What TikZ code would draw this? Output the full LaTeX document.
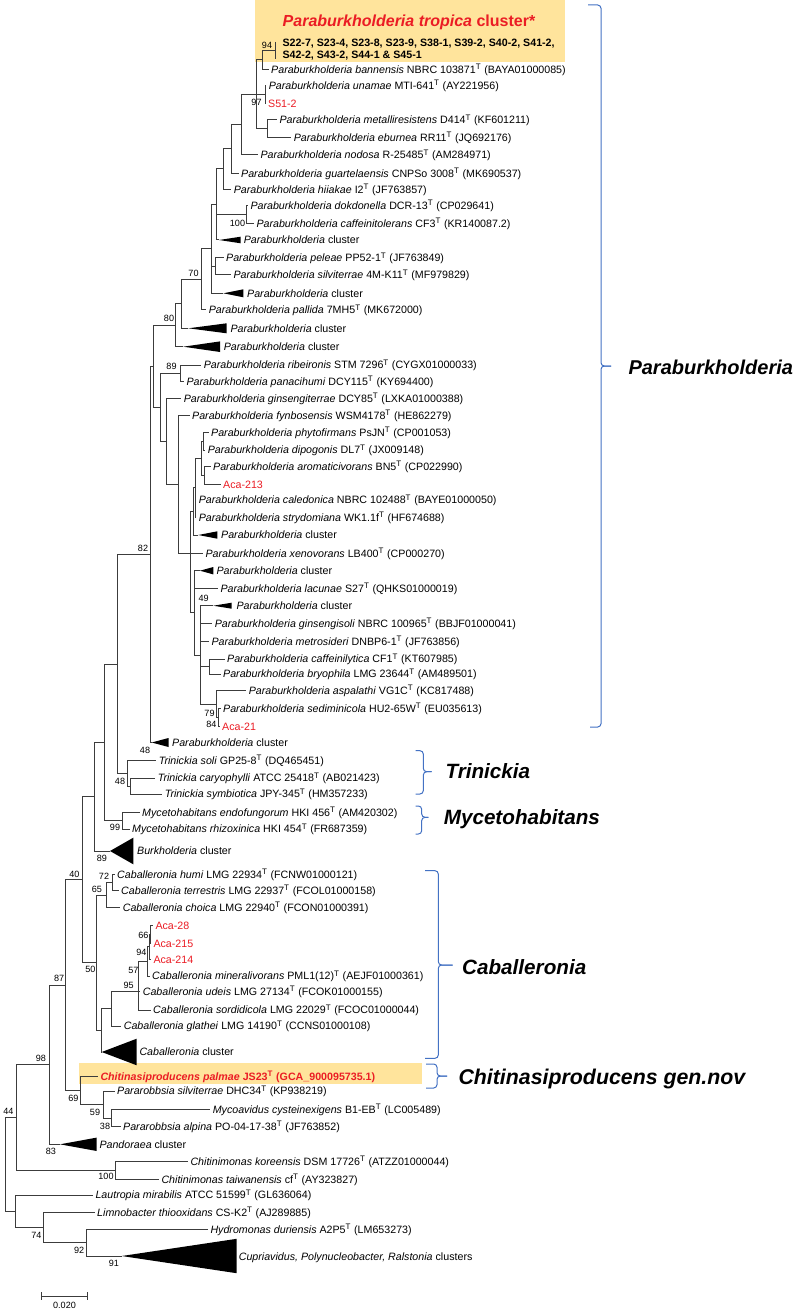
\documentclass[tikz,border=0pt]{standalone}
\usepackage{fontspec}
\setmainfont{Liberation Sans}
\definecolor{treegray}{RGB}{60,60,60}
\definecolor{strainred}{RGB}{235,28,36}
\definecolor{hlyellow}{RGB}{255,228,156}
\definecolor{braceblue}{RGB}{68,114,196}
\newcommand{\supT}{\textsuperscript{T}}
\tikzset{every picture/.style={line width=0.75pt}}
\tikzset{
  branch/.style={draw=treegray, line width=0.75pt},
  leaf/.style={anchor=west, inner xsep=1.5pt, inner ysep=0pt, text height=5.7pt, text depth=0pt, font=\fontsize{8}{9.6}\selectfont},
  redleaf/.style={leaf, text=strainred},
  boot/.style={inner sep=0pt, text height=4.8pt, text depth=0pt, font=\fontsize{6.8}{8}\selectfont},
  clade/.style={fill=black},
  bracket/.style={draw=braceblue, line width=0.75pt, rounded corners=2.5pt},
  genus/.style={anchor=west, inner sep=0pt, text height=11pt, text depth=0pt, font=\fontsize{15.5}{18}\selectfont\bfseries\itshape},
}

\begin{document}
\begin{tikzpicture}[x=0.75pt,y=0.75pt,yscale=-1,xscale=1]
\path[use as bounding box, fill=white] (0,0) rectangle (804,1312);

%Highlight boxes
\fill[hlyellow] (255,0) rectangle (565,62);
\fill[hlyellow] (79.3,1063.3) rectangle (421.7,1084);

%Title of the tropica cluster
\node[inner sep=0pt, text height=8.6pt, text depth=0pt, text=strainred, font=\fontsize{12}{14}\selectfont\bfseries] (ttrop) at (409,20.5) {\textit{Paraburkholderia tropica} cluster*};

%Internal nodes
\coordinate (n94) at (262.7,60);
\coordinate (n97) at (265,94.6);
\coordinate (nME) at (267.7,128.7);
\coordinate (nB) at (256,94.3);
\coordinate (nA) at (241.7,124.7);
\coordinate (nC) at (231.7,149);
\coordinate (nD) at (223,169);
\coordinate (n100) at (246,214.5);
\coordinate (nE) at (216.7,204.5);
\coordinate (nPS) at (215,266.5);
\coordinate (nF) at (211.7,249);
\coordinate (nG) at (201.7,279.5);
\coordinate (nH) at (181.7,304);
\coordinate (nI) at (175,325.3);
\coordinate (n89) at (180,373.3);
\coordinate (nRA) at (203.3,441.2);
\coordinate (nRB) at (204.3,475.5);
\coordinate (nR) at (201,458.3);
\coordinate (nT) at (195,487.8);
\coordinate (nS) at (193.3,511.4);
\coordinate (nCB) at (209.3,666.5);
\coordinate (n79) at (218.3,717.5);
\coordinate (nX) at (216,704.1);
\coordinate (nW2) at (200,655);
\coordinate (nW) at (194.3,612.9);
\coordinate (nV) at (190,553.3);
\coordinate (nP) at (178.3,484.5);
\coordinate (nO) at (166.7,441.7);
\coordinate (nN) at (160,407.5);
\coordinate (nM) at (153.3,366.4);
\coordinate (nK) at (150,554.5);
\coordinate (nT2) at (130.7,786);
\coordinate (nT1) at (127.7,773.4);
\coordinate (nZ1) at (117,664);
\coordinate (nMy) at (122.7,820.7);
\coordinate (nZ2) at (104,742.3);
\coordinate (nZ3) at (94.3,796.7);
\coordinate (n72) at (112.7,882.5);
\coordinate (n65) at (106,895.1);
\coordinate (n66) at (150.3,934.5);
\coordinate (n94b) at (149,946.9);
\coordinate (n57) at (147.7,961.5);
\coordinate (n95) at (138.3,991.5);
\coordinate (nY3) at (111.7,1008.7);
\coordinate (nY2) at (101,1030);
\coordinate (nY1) at (96.7,962.6);
\coordinate (nZ4) at (82.7,879.6);
\coordinate (n38) at (111.7,1118);
\coordinate (n59) at (103.3,1104.5);
\coordinate (n69) at (80,1090.6);
\coordinate (n87) at (65,985.1);
\coordinate (n98) at (49.3,1064.7);
\coordinate (nCh) at (115,1170.5);
\coordinate (n44) at (16,1117.6);
\coordinate (n92) at (86.7,1242.7);
\coordinate (n74) at (43.3,1227.7);
\coordinate (n15) at (15,1211.3);
\coordinate (nroot) at (5,1164.5);

%Collapsed clusters (apex)
\coordinate (c1) at (219,240);
\coordinate (c2) at (223.3,293.3);
\coordinate (c3) at (188.3,328.3);
\coordinate (c4) at (183.3,346.7);
\coordinate (c5) at (198.3,535);
\coordinate (c6) at (200,570.7);
\coordinate (c7) at (213.3,605.7);
\coordinate (c8) at (151.7,742.5);
\coordinate (c9) at (110,851);
\coordinate (c10) at (101.7,1052);
\coordinate (c11) at (60,1144.3);
\coordinate (c12) at (121.7,1256);
\fill[clade] (c1) -- ++(21.7,-3.3) -- ++(0,6.6) -- cycle;
\fill[clade] (c2) -- ++(20,-4) -- ++(0,8) -- cycle;
\fill[clade] (c3) -- ++(38.4,-5) -- ++(0,10) -- cycle;
\fill[clade] (c4) -- ++(36.7,-5.3) -- ++(0,10.6) -- cycle;
\fill[clade] (c5) -- ++(19,-3.7) -- ++(0,7.4) -- cycle;
\fill[clade] (c6) -- ++(13.3,-3.7) -- ++(0,7.4) -- cycle;
\fill[clade] (c7) -- ++(18.4,-3) -- ++(0,6) -- cycle;
\fill[clade] (c8) -- ++(16.8,-4.5) -- ++(0,9) -- cycle;
\fill[clade] (c9) -- ++(23.3,-13.3) -- ++(0,26.6) -- cycle;
\fill[clade] (c10) -- ++(35,-13.3) -- ++(0,26.6) -- cycle;
\fill[clade] (c11) -- ++(36.7,-6.7) -- ++(0,13.4) -- cycle;
\fill[clade] (c12) -- ++(115,-17.2) -- ++(0,34.4) -- cycle;

%Strains of the tropica cluster
\coordinate (sbar) at (275,50.7);
\coordinate (sbarT) at (275,42);
\coordinate (sbarB) at (275,59);
\node[anchor=west, inner xsep=1.5pt, inner ysep=0pt, align=left, font=\fontsize{8}{9.2}\selectfont\bfseries] (lstr) at (280,49.4) {S22-7, S23-4, S23-8, S23-9, S38-1, S39-2, S40-2, S41-2,\\S42-2, S43-2, S44-1 \& S45-1};

%Leaves
\node[leaf] (lbann) at (268.7,69.3) {\textit{Paraburkholderia bannensis} NBRC 103871\supT{} (BAYA01000085)};
\node[leaf] (lunam) at (266.3,85.7) {\textit{Paraburkholderia unamae} MTI-641\supT{} (AY221956)};
\node[redleaf] (lS512) at (265.7,103.5) {S51-2};
\node[leaf] (lmeta) at (277,120) {\textit{Paraburkholderia metalliresistens} D414\supT{} (KF601211)};
\node[leaf] (lebur) at (291.3,137.3) {\textit{Paraburkholderia eburnea} RR11\supT{} (JQ692176)};
\node[leaf] (lnodo) at (258,155) {\textit{Paraburkholderia nodosa} R-25485\supT{} (AM284971)};
\node[leaf] (lguar) at (238.7,173.3) {\textit{Paraburkholderia guartelaensis} CNPSo 3008\supT{} (MK690537)};
\node[leaf] (lhiia) at (231.3,189.3) {\textit{Paraburkholderia hiiakae} I2\supT{} (JF763857)};
\node[leaf] (ldokd) at (248,205.7) {\textit{Paraburkholderia dokdonella} DCR-13\supT{} (CP029641)};
\node[leaf] (lcaff) at (254,223.3) {\textit{Paraburkholderia caffeinitolerans} CF3\supT{} (KR140087.2)};
\node[leaf] (lc1) at (241.3,240) {\textit{Paraburkholderia} cluster};
\node[leaf] (lpele) at (223.7,258) {\textit{Paraburkholderia peleae} PP52-1\supT{} (JF763849)};
\node[leaf] (lsilv) at (231,275) {\textit{Paraburkholderia silviterrae} 4M-K11\supT{} (MF979829)};
\node[leaf] (lc2) at (244.7,293.3) {\textit{Paraburkholderia} cluster};
\node[leaf] (lpall) at (206.3,310) {\textit{Paraburkholderia pallida} 7MH5\supT{} (MK672000)};
\node[leaf] (lc3) at (228,328.3) {\textit{Paraburkholderia} cluster};
\node[leaf] (lc4) at (221.3,346.7) {\textit{Paraburkholderia} cluster};
\node[leaf] (lribe) at (201.3,365) {\textit{Paraburkholderia ribeironis} STM 7296\supT{} (CYGX01000033)};
\node[leaf] (lpana) at (184,381.5) {\textit{Paraburkholderia panacihumi} DCY115\supT{} (KY694400)};
\node[leaf] (lgint) at (181.3,398.8) {\textit{Paraburkholderia ginsengiterrae} DCY85\supT{} (LXKA01000388)};
\node[leaf] (lfynb) at (189.7,415.7) {\textit{Paraburkholderia fynbosensis} WSM4178\supT{} (HE862279)};
\node[leaf] (lphyt) at (208.7,432.3) {\textit{Paraburkholderia phytofirmans} PsJN\supT{} (CP001053)};
\node[leaf] (ldipo) at (205.3,450) {\textit{Paraburkholderia dipogonis} DL7\supT{} (JX009148)};
\node[leaf] (larom) at (210.7,466.7) {\textit{Paraburkholderia aromaticivorans} BN5\supT{} (CP022990)};
\node[redleaf] (lA213) at (220.7,484.3) {Aca-213};
\node[leaf] (lcale) at (196.3,500) {\textit{Paraburkholderia caledonica} NBRC 102488\supT{} (BAYE01000050)};
\node[leaf] (lstry) at (196.3,517.3) {\textit{Paraburkholderia strydomiana} WK1.1f\supT{} (HF674688)};
\node[leaf] (lc5) at (218.7,535) {\textit{Paraburkholderia} cluster};
\node[leaf] (lxeno) at (203,553.3) {\textit{Paraburkholderia xenovorans} LB400\supT{} (CP000270)};
\node[leaf] (lc6) at (214,570.7) {\textit{Paraburkholderia} cluster};
\node[leaf] (llacu) at (218,588.3) {\textit{Paraburkholderia lacunae} S27\supT{} (QHKS01000019)};
\node[leaf] (lc7) at (234,605.7) {\textit{Paraburkholderia} cluster};
\node[leaf] (lgiso) at (212.3,623.3) {\textit{Paraburkholderia ginsengisoli} NBRC 100965\supT{} (BBJF01000041)};
\node[leaf] (lmetr) at (209,641.7) {\textit{Paraburkholderia metrosideri} DNBP6-1\supT{} (JF763856)};
\node[leaf] (lcfly) at (224.7,659) {\textit{Paraburkholderia caffeinilytica} CF1\supT{} (KT607985)};
\node[leaf] (lbryo) at (220.7,674) {\textit{Paraburkholderia bryophila} LMG 23644\supT{} (AM489501)};
\node[leaf] (laspa) at (246.3,690.7) {\textit{Paraburkholderia aspalathi} VG1C\supT{} (KC817488)};
\node[leaf] (lsedi) at (220.7,708.3) {\textit{Paraburkholderia sediminicola} HU2-65W\supT{} (EU035613)};
\node[redleaf] (lA21) at (219.7,726.7) {Aca-21};
\node[leaf] (lc8) at (169.7,742.5) {\textit{Paraburkholderia} cluster};
\node[leaf] (ltsol) at (156.3,760.8) {\textit{Trinickia soli} GP25-8\supT{} (DQ465451)};
\node[leaf] (ltcar) at (155.3,778) {\textit{Trinickia caryophylli} ATCC 25418\supT{} (AB021423)};
\node[leaf] (ltsym) at (162.3,794) {\textit{Trinickia symbiotica} JPY-345\supT{} (HM357233)};
\node[leaf] (lmend) at (139.7,812.3) {\textit{Mycetohabitans endofungorum} HKI 456\supT{} (AM420302)};
\node[leaf] (lmrhi) at (129.7,829) {\textit{Mycetohabitans rhizoxinica} HKI 454\supT{} (FR687359)};
\node[leaf] (lc9) at (134.7,851) {\textit{Burkholderia} cluster};
\node[leaf] (lhumi) at (114.7,874.3) {\textit{Caballeronia humi} LMG 22934\supT{} (FCNW01000121)};
\node[leaf] (lterr) at (118.7,890.7) {\textit{Caballeronia terrestris} LMG 22937\supT{} (FCOL01000158)};
\node[leaf] (lchoi) at (120.3,907.7) {\textit{Caballeronia choica} LMG 22940\supT{} (FCON01000391)};
\node[redleaf] (lA28) at (153,925.7) {Aca-28};
\node[redleaf] (lA215) at (151,943.3) {Aca-215};
\node[redleaf] (lA214) at (151,959.3) {Aca-214};
\node[leaf] (lmine) at (149.7,976) {\textit{Caballeronia mineralivorans} PML1(12)\supT{} (AEJF01000361)};
\node[leaf] (ludei) at (140.3,991.5) {\textit{Caballeronia udeis} LMG 27134\supT{} (FCOK01000155)};
\node[leaf] (lsord) at (150.7,1010) {\textit{Caballeronia sordidicola} LMG 22029\supT{} (FCOC01000044)};
\node[leaf] (lglat) at (121.3,1026) {\textit{Caballeronia glathei} LMG 14190\supT{} (CCNS01000108)};
\node[leaf] (lc10) at (137,1052) {\textit{Caballeronia} cluster};
\node[redleaf, font=\fontsize{8}{9.6}\selectfont\bfseries] (lchit) at (98,1076.7) {\textit{Chitinasiproducens palmae} JS23\supT{} (GCA\_900095735.1)};
\node[leaf] (lprsi) at (114.7,1091) {\textit{Pararobbsia silviterrae} DHC34\supT{} (KP938219)};
\node[leaf] (lmyco) at (210.3,1109.3) {\textit{Mycoavidus cysteinexigens} B1-EB\supT{} (LC005489)};
\node[leaf] (lpral) at (120.7,1126.7) {\textit{Pararobbsia alpina} PO-04-17-38\supT{} (JF763852)};
\node[leaf] (lc11) at (97,1144.3) {\textit{Pandoraea} cluster};
\node[leaf] (lckor) at (188,1161.7) {\textit{Chitinimonas koreensis} DSM 17726\supT{} (ATZZ01000044)};
\node[leaf] (lctai) at (159,1179.3) {\textit{Chitinimonas taiwanensis} cf\supT{} (AY323827)};
\node[leaf] (llaut) at (93,1195) {\textit{Lautropia mirabilis} ATCC 51599\supT{} (GL636064)};
\node[leaf] (llimn) at (94.7,1212.7) {\textit{Limnobacter thiooxidans} CS-K2\supT{} (AJ289885)};
\node[leaf] (lhydr) at (208,1229.3) {\textit{Hydromonas duriensis} A2P5\supT{} (LM653273)};
\node[leaf] (lc12) at (236.3,1256.5) {\textit{Cupriavidus, Polynucleobacter, Ralstonia} clusters};

%Branches
\draw[branch] (sbarT) -- (sbarB);
\draw[branch] (n94) |- (sbar) (n94) |- (lbann.west);
\draw[branch] (n97) |- (lunam.west) (n97) |- (lS512.west);
\draw[branch] (nME) |- (lmeta.west) (nME) |- (lebur.west);
\draw[branch] (nB) |- (n94) (nB) |- (n97) (nB) |- (nME);
\draw[branch] (nA) |- (nB) (nA) |- (lnodo.west);
\draw[branch] (nC) |- (nA) (nC) |- (lguar.west);
\draw[branch] (nD) |- (nC) (nD) |- (lhiia.west);
\draw[branch] (n100) |- (ldokd.west) (n100) |- (lcaff.west);
\draw[branch] (nE) |- (nD) (nE) |- (n100) (nE) |- (c1);
\draw[branch] (nPS) |- (lpele.west) (nPS) |- (lsilv.west);
\draw[branch] (nF) |- (nE) (nF) |- (nPS) (nF) |- (c2);
\draw[branch] (nG) |- (nF) (nG) |- (lpall.west);
\draw[branch] (nH) |- (nG) (nH) |- (c3);
\draw[branch] (nI) |- (nH) (nI) |- (c4);
\draw[branch] (n89) |- (lribe.west) (n89) |- (lpana.west);
\draw[branch] (nRA) |- (lphyt.west) (nRA) |- (ldipo.west);
\draw[branch] (nRB) |- (larom.west) (nRB) |- (lA213.west);
\draw[branch] (nR) |- (nRA) (nR) |- (nRB);
\draw[branch] (nT) |- (nR) (nT) |- (lcale.west) (nT) |- (lstry.west);
\draw[branch] (nS) |- (nT) (nS) |- (c5);
\draw[branch] (nCB) |- (lcfly.west) (nCB) |- (lbryo.west);
\draw[branch] (n79) |- (lsedi.west) (n79) |- (lA21.west);
\draw[branch] (nX) |- (laspa.west) (nX) |- (n79);
\draw[branch] (nW2) |- (c7) (nW2) |- (lgiso.west) (nW2) |- (lmetr.west) (nW2) |- (nCB) (nW2) |- (nX);
\draw[branch] (nW) |- (c6) (nW) |- (llacu.west) (nW) |- (nW2);
\draw[branch] (nV) |- (nS) (nV) |- (lxeno.west) (nV) |- (nW);
\draw[branch] (nP) |- (lfynb.west) (nP) |- (nV);
\draw[branch] (nO) |- (lgint.west) (nO) |- (nP);
\draw[branch] (nN) |- (n89) (nN) |- (nO);
\draw[branch] (nM) |- (nI) (nM) |- (nN);
\draw[branch] (nK) |- (nM) (nK) |- (c8);
\draw[branch] (nT2) |- (ltcar.west) (nT2) |- (ltsym.west);
\draw[branch] (nT1) |- (ltsol.west) (nT1) |- (nT2);
\draw[branch] (nZ1) |- (nK) (nZ1) |- (nT1);
\draw[branch] (nMy) |- (lmend.west) (nMy) |- (lmrhi.west);
\draw[branch] (nZ2) |- (nZ1) (nZ2) |- (nMy);
\draw[branch] (nZ3) |- (nZ2) (nZ3) |- (c9);
\draw[branch] (n72) |- (lhumi.west) (n72) |- (lterr.west);
\draw[branch] (n65) |- (n72) (n65) |- (lchoi.west);
\draw[branch] (n66) |- (lA28.west) (n66) |- (lA215.west);
\draw[branch] (n94b) |- (n66) (n94b) |- (lA214.west);
\draw[branch] (n57) |- (n94b) (n57) |- (lmine.west);
\draw[branch] (n95) |- (n57) (n95) |- (ludei.west) (n95) |- (lsord.west);
\draw[branch] (nY3) |- (n95) (nY3) |- (lglat.west);
\draw[branch] (nY2) |- (nY3) (nY2) |- (c10);
\draw[branch] (nY1) |- (n65) (nY1) |- (nY2);
\draw[branch] (nZ4) |- (nZ3) (nZ4) |- (nY1);
\draw[branch] (n38) |- (lmyco.west) (n38) |- (lpral.west);
\draw[branch] (n59) |- (lprsi.west) (n59) |- (n38);
\draw[branch] (n69) |- (lchit.west) (n69) |- (n59);
\draw[branch] (n87) |- (nZ4) (n87) |- (n69);
\draw[branch] (n98) |- (n87) (n98) |- (c11);
\draw[branch] (nCh) |- (lckor.west) (nCh) |- (lctai.west);
\draw[branch] (n44) |- (n98) (n44) |- (nCh);
\draw[branch] (n92) |- (lhydr.west) (n92) |- (c12);
\draw[branch] (n74) |- (llimn.west) (n74) |- (n92);
\draw[branch] (n15) |- (llaut.west) (n15) |- (n74);
\draw[branch] (nroot) |- (n44) (nroot) |- (n15);

%Bootstrap values
\node[boot] (b94a) at (267,45) {94};
\node[boot] (b97) at (256.5,102) {97};
\node[boot] (b100a) at (237.5,223.3) {100};
\node[boot] (b70) at (193.5,273.3) {70};
\node[boot] (b80) at (169,318.3) {80};
\node[boot] (b89a) at (171.5,366) {89};
\node[boot] (b82) at (143,548.3) {82};
\node[boot] (b49) at (203.7,598.7) {49};
\node[boot] (b79) at (209.5,713.5) {79};
\node[boot] (b84) at (211.3,724) {84};
\node[boot] (b48a) at (145,750.7) {48};
\node[boot] (b48b) at (120,781.7) {48};
\node[boot] (b99) at (115,827.7) {99};
\node[boot] (b89b) at (102,858.7) {89};
\node[boot] (b40) at (74.3,874.3) {40};
\node[boot] (b72) at (104,876.7) {72};
\node[boot] (b65) at (97,889.5) {65};
\node[boot] (b66) at (143.3,935.3) {66};
\node[boot] (b94b) at (141.3,952.5) {94};
\node[boot] (b57) at (133.3,970) {57};
\node[boot] (b95) at (128.7,985.5) {95};
\node[boot] (b50) at (90.3,969.7) {50};
\node[boot] (b87) at (59.2,978) {87};
\node[boot] (b98) at (41,1058.3) {98};
\node[boot] (b69) at (73.3,1098.3) {69};
\node[boot] (b59) at (95,1112.7) {59};
\node[boot] (b38) at (105,1126) {38};
\node[boot] (b83) at (51,1151.7) {83};
\node[boot] (b100b) at (106,1176.7) {100};
\node[boot] (b44) at (8.3,1111.7) {44};
\node[boot] (b74) at (36.3,1235) {74};
\node[boot] (b92) at (79.2,1250.7) {92};
\node[boot] (b91) at (113.8,1263.3) {91};

%Genus brackets
\draw[bracket] (588,5) -- (601,5) -- (601,366) -- (611,366);
\draw[bracket] (611,366) -- (601,366) -- (601,727) -- (590,727);
\draw[bracket] (415.7,750.7) -- (423.3,750.7) -- (423.3,771.7) -- (431.7,771.7);
\draw[bracket] (431.7,771.7) -- (423.3,771.7) -- (423.3,794) -- (415.7,794);
\draw[bracket] (415.7,806) -- (421.7,806) -- (421.7,817.3) -- (428.3,817.3);
\draw[bracket] (428.3,817.3) -- (421.7,817.3) -- (421.7,834) -- (415.7,834);
\draw[bracket] (425,870.7) -- (438.3,870.7) -- (438.3,965) -- (452.7,965);
\draw[bracket] (452.7,965) -- (438.3,965) -- (438.3,1058.3) -- (425,1058.3);
\draw[bracket] (426,1064) -- (437,1064) -- (437,1076) -- (447,1076);
\draw[bracket] (447,1076) -- (437,1076) -- (437,1088) -- (426,1088);

%Genus labels
\node[genus, font=\fontsize{15}{18}\selectfont\bfseries\itshape] (gpara) at (628,367) {Paraburkholderia};
\node[genus] (gtrin) at (445,771) {Trinickia};
\node[genus] (gmyce) at (443.3,817) {Mycetohabitans};
\node[genus] (gcaba) at (461.7,967.3) {Caballeronia};
\node[genus, font=\fontsize{16}{18}\selectfont\bfseries\itshape] (gchit) at (458,1077.5) {Chitinasiproducens gen.nov};

%Scale bar
\coordinate (sbL) at (41.7,1296);
\coordinate (sbR) at (87.3,1296);
\draw[branch] (sbL) -- (sbR);
\draw[branch] ([yshift=-3]sbL) -- ([yshift=3]sbL);
\draw[branch] ([yshift=-3]sbR) -- ([yshift=3]sbR);
\node[boot] (lscale) at (64.5,1305.5) {0.020};

\end{tikzpicture}
\end{document}
